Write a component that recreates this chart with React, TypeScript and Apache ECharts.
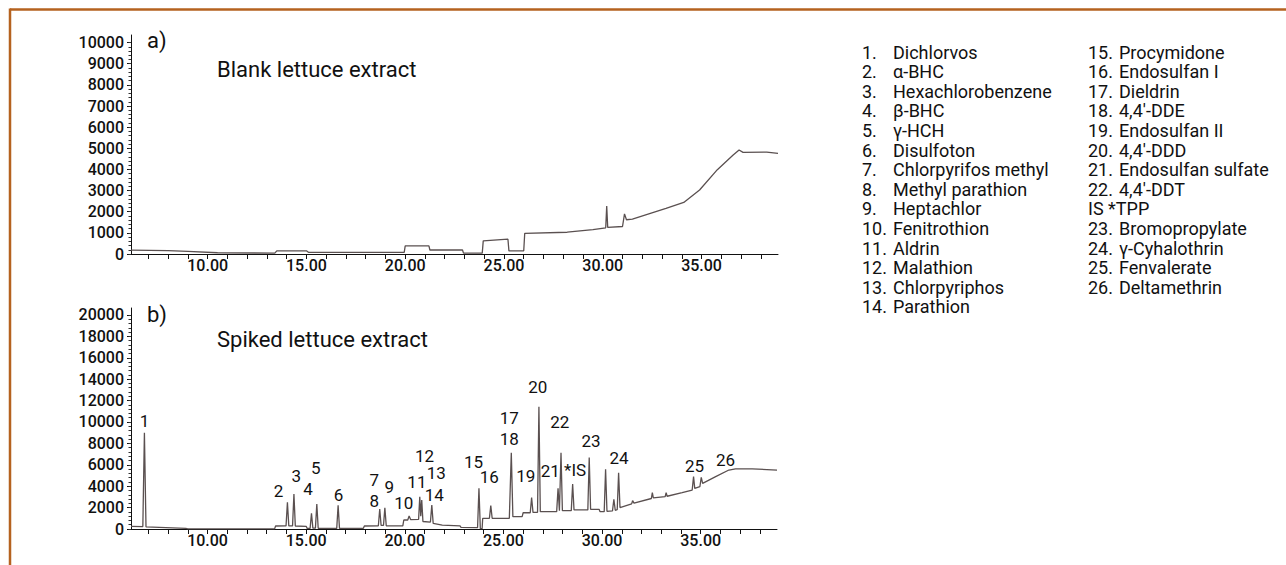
import React, { useEffect, useRef } from "react";
import * as echarts from "echarts";

// ---- data (retention time [min], abundance) ----
const blankTrace: [number, number][] = [
  [6.12, 180], [8.0, 160], [9.0, 120], [10.5, 60], [13.4, 40], [13.5, 150], [15.0, 150],
  [15.1, 80], [19.95, 80], [20.0, 380], [21.2, 380], [21.25, 190], [22.9, 190], [22.95, 40],
  [23.9, 40], [23.95, 620], [25.2, 700], [25.25, 150], [26.0, 150], [26.05, 980], [28.2, 1030],
  [29.5, 1150], [30.15, 1240], [30.2, 2270], [30.25, 1260], [31.0, 1300], [31.1, 1900],
  [31.2, 1620], [31.5, 1650], [33.2, 2160], [34.1, 2440], [34.9, 3030], [35.8, 3990],
  [36.6, 4680], [36.9, 4920], [37.1, 4810], [38.3, 4820], [38.87, 4760],
];

const spikedTrace: [number, number][] = [
  [6.12, 250], [6.72, 230], [6.8, 9000], [6.88, 200], [8.9, 60], [9.0, 10], [13.4, 10],
  [13.45, 280], [13.98, 290], [14.05, 2490], [14.12, 290], [14.31, 290], [14.38, 3270],
  [14.45, 280], [15.0, 250], [15.05, 60], [15.2, 60], [15.27, 1470], [15.34, 80], [15.47, 80],
  [15.54, 2340], [15.61, 70], [16.55, 60], [16.62, 2210], [16.69, 60], [17.9, 60], [17.95, 280],
  [18.66, 300], [18.73, 1870], [18.8, 330], [18.92, 330], [18.99, 1990], [19.06, 300],
  [19.9, 300], [19.95, 840], [20.15, 840], [20.22, 1210], [20.3, 870], [20.7, 900],
  [20.76, 3020], [20.81, 1200], [20.86, 2710], [20.92, 700], [21.3, 650], [21.37, 2240],
  [21.44, 530], [21.9, 370], [22.8, 300], [22.85, 160], [23.69, 130], [23.76, 3800],
  [23.83, 30], [23.92, 30], [23.95, 1000], [24.29, 1000], [24.36, 2180], [24.43, 1000],
  [25.3, 1000], [25.4, 7130], [25.48, 1150], [25.95, 1150], [26.0, 1520], [26.36, 1520],
  [26.43, 2930], [26.5, 1550], [26.73, 1560], [26.8, 11430], [26.87, 1620], [27.7, 1620],
  [27.77, 3800], [27.84, 1700], [27.92, 7130], [27.99, 1710], [28.44, 1710], [28.51, 4200],
  [28.58, 1780], [29.28, 1780], [29.35, 6670], [29.42, 1840], [29.85, 1840], [29.9, 1620],
  [30.11, 1620], [30.18, 5580], [30.25, 1650], [30.53, 1700], [30.6, 2780], [30.67, 1750],
  [30.77, 1800], [30.84, 5260], [30.91, 2000], [31.5, 2350], [31.55, 2650], [31.62, 2420],
  [32.5, 2850], [32.55, 3390], [32.6, 2900], [33.2, 3020], [33.25, 3400], [33.3, 3060],
  [34.06, 3390], [34.57, 3640], [34.64, 4890], [34.7, 3800], [34.96, 3950], [35.03, 4830],
  [35.1, 4270], [35.76, 4890], [36.43, 5510], [36.77, 5610], [37.61, 5610], [38.87, 5510],
];

// peak labels: [text, time, abundance position]
const peakLabels: [string, number, number][] = [
  ["1", 6.83, 10030], ["2", 13.63, 3490], ["3", 14.53, 4890], ["4", 15.12, 3710],
  ["5", 15.51, 5640], ["6", 16.67, 3110], ["7", 18.48, 4510], ["8", 18.48, 2550],
  ["9", 19.24, 3900], ["10", 19.97, 2400], ["11", 20.64, 4360], ["12", 21.03, 6760],
  ["13", 21.62, 5140], ["14", 21.52, 3110], ["15", 23.51, 6200], ["16", 24.31, 4830],
  ["17", 25.32, 10280], ["18", 25.32, 8320], ["19", 26.16, 4950], ["20", 26.77, 13210],
  ["21", 27.4, 5360], ["22", 27.88, 9970], ["*IS", 28.66, 5420], ["23", 29.47, 8160],
  ["24", 30.89, 6610], ["25", 34.71, 5820], ["26", 36.29, 6380],
];

const compoundIds = [
  "1.", "2.", "3.", "4.", "5.", "6.", "7.", "8.", "9.", "10.", "11.", "12.", "13.", "14.",
  "15.", "16.", "17.", "18.", "19.", "20.", "21.", "22.", "IS", "23.", "24.", "25.", "26.",
];
const compoundNames = [
  "Dichlorvos", "α-BHC", "Hexachlorobenzene", "β-BHC", "γ-HCH", "Disulfoton",
  "Chlorpyrifos methyl", "Methyl parathion", "Heptachlor", "Fenitrothion", "Aldrin",
  "Malathion", "Chlorpyriphos", "Parathion", "Procymidone", "Endosulfan I", "Dieldrin",
  "4,4′-DDE", "Endosulfan II", "4,4′-DDD", "Endosulfan sulfate", "4,4′-DDT", "*TPP",
  "Bromopropylate", "γ-Cyhalothrin", "Fenvalerate", "Deltamethrin",
];

const xTickLabels = [10, 15, 20, 25, 30, 35];
const xMinorTicks = [7, 8, 9, 10, 11, 12, 13, 14, 15, 16, 17, 18, 19, 20, 21, 22, 23, 24, 25, 26, 27, 28, 29, 30, 31, 32, 33, 34, 35, 36, 37, 38];
const yTicksTop = [0, 1000, 2000, 3000, 4000, 5000, 6000, 7000, 8000, 9000, 10000];
const yTicksBottom = [0, 2000, 4000, 6000, 8000, 10000, 12000, 14000, 16000, 18000, 20000];

const FONT = "Roboto, 'Liberation Sans', sans-serif";
const LINE_COLOR = "#5a5050";
const FRAME = "#b5621f";
const TEXT = "#111111";

function minorList(max: number, step: number) {
  const out: number[] = [];
  for (let v = 0; v <= max + 1e-6; v += step) out.push(v);
  return out;
}

function axisPair(gridIndex: number, max: number, major: number[], minorStep: number) {
  return [
    {
      type: "value", gridIndex, min: 0, max, position: "left",
      axisLine: { show: true, lineStyle: { color: "#111", width: 1 } },
      axisTick: { show: true, customValues: major, length: 4, lineStyle: { color: "#111" } },
      axisLabel: {
        show: true, customValues: major, margin: 7, fontSize: 16, fontFamily: FONT,
        fontWeight: 500, color: TEXT, formatter: (v: number) => String(v),
      },
      splitLine: { show: false },
    },
    {
      type: "value", gridIndex, min: 0, max, position: "left", offset: 0,
      axisLine: { show: false },
      axisTick: { show: true, customValues: minorList(major[major.length - 1], minorStep), length: 2.5, lineStyle: { color: "#333" } },
      axisLabel: { show: false },
      splitLine: { show: false },
    },
  ];
}

function xAxis(gridIndex: number) {
  return {
    type: "value", gridIndex, min: 6.12, max: 38.87,
    axisLine: { onZero: false, lineStyle: { color: "#111", width: 1 } },
    axisTick: { show: true, customValues: xMinorTicks, length: 5, lineStyle: { color: "#111" } },
    axisLabel: {
      customValues: xTickLabels, margin: 3, fontSize: 16, fontFamily: FONT, fontWeight: 500,
      color: TEXT, formatter: (v: number) => v.toFixed(2),
    },
    splitLine: { show: false },
  };
}

export default function App() {
  const ref = useRef<HTMLDivElement>(null);
  useEffect(() => {
    if (!ref.current) return;
    const chart = echarts.init(ref.current, null, { renderer: "svg" });

    const legendGraphics: any[] = [];
    compoundIds.forEach((id, i) => {
      const col = i < 14 ? 0 : 1;
      const row = col === 0 ? i : i - 14;
      const x = col === 0 ? 862 : 1088;
      const y = 52 + row * 19.6;
      const style = { fontSize: 18, fontFamily: FONT, fill: TEXT, verticalAlign: "middle" };
      if (id === "IS") {
        legendGraphics.push({ type: "text", x, y, style: { ...style, text: "IS " + compoundNames[i] } });
      } else {
        legendGraphics.push({ type: "text", x, y, style: { ...style, text: id } });
        legendGraphics.push({ type: "text", x: x + 31, y, style: { ...style, text: compoundNames[i] } });
      }
    });

    const titleStyle = { fontSize: 22, fontFamily: FONT, fill: TEXT, verticalAlign: "middle" };

    chart.setOption({
      animation: false,
      backgroundColor: "#ffffff",
      grid: [
        { left: 131, top: 35, width: 647, height: 219 },
        { left: 131, top: 308, width: 646, height: 221 },
      ],
      xAxis: [xAxis(0), xAxis(1)],
      yAxis: [
        ...axisPair(0, 10360, yTicksTop, 200),
        ...axisPair(1, 20650, yTicksBottom, 400),
      ],
      series: [
        {
          type: "line", xAxisIndex: 0, yAxisIndex: 0, data: blankTrace, showSymbol: false,
          lineStyle: { color: LINE_COLOR, width: 1.3 }, silent: true,
        },
        {
          type: "line", xAxisIndex: 1, yAxisIndex: 2, data: spikedTrace, showSymbol: false,
          lineStyle: { color: LINE_COLOR, width: 1.3 }, silent: true,
        },
        {
          type: "scatter", xAxisIndex: 1, yAxisIndex: 2, symbolSize: 1,
          itemStyle: { color: "rgba(0,0,0,0)" },
          data: peakLabels.map(([t, x, y]) => ({ name: t, value: [x, y] })),
          label: {
            show: true, position: [0, 0], align: "center", verticalAlign: "middle",
            formatter: "{b}", fontSize: 17, fontFamily: FONT, color: TEXT,
            textBorderWidth: 0, opacity: 1,
          },
          silent: true,
        },
      ],
      graphic: [
        { type: "line", shape: { x1: 10, y1: 9.5, x2: 1286, y2: 9.5 }, style: { stroke: FRAME, lineWidth: 2.5 } },
        { type: "line", shape: { x1: 10, y1: 8.5, x2: 10, y2: 565 }, style: { stroke: FRAME, lineWidth: 2.5 } },
        { type: "text", x: 147, y: 40, style: { ...titleStyle, text: "a)" } },
        { type: "text", x: 217, y: 69, style: { ...titleStyle, text: "Blank lettuce extract" } },
        { type: "text", x: 147, y: 314, style: { ...titleStyle, text: "b)" } },
        { type: "text", x: 217, y: 339, style: { ...titleStyle, text: "Spiked lettuce extract" } },
        ...legendGraphics,
      ],
    });
    return () => chart.dispose();
  }, []);
  return (
    <div
      ref={ref}
      style={{ position: "absolute", left: 0, top: 0, width: 1286, height: 565 }}
    />
  );
}
